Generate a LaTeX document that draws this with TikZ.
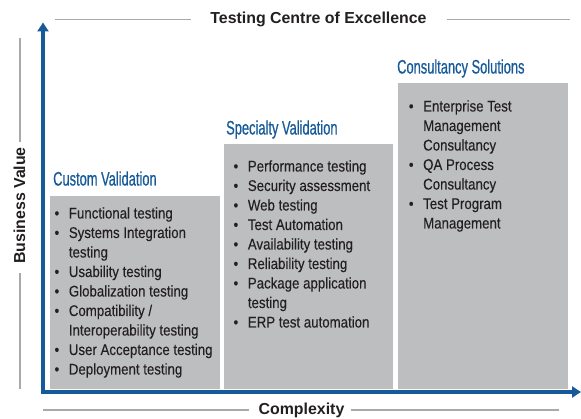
\documentclass[tikz,border=0pt]{standalone}
\usepackage{fontspec}
\setmainfont{Liberation Sans}
\newfontfamily\headfont[FakeStretch=0.66, FakeBold=0.6]{Liberation Sans}
\newfontfamily\listfont[FakeStretch=0.855, FakeBold=0.2]{Liberation Sans}
\usetikzlibrary{arrows.meta}
\definecolor{axisblue}{HTML}{175A99}
\definecolor{boxgray}{HTML}{BCBEC0}
\definecolor{guidegray}{HTML}{A7A9AC}
\definecolor{textdark}{HTML}{231F20}

\begin{document}
\begin{tikzpicture}[x=1pt, y=-1pt]

    % let's define some key values
    \useasboundingbox (0,0) rectangle (581,419);
    \coordinate (origin) at (43,392);
    \coordinate (ytip) at (43,22.5);
    \coordinate (xtip) at (581,392);
    \coordinate (topleft) at (55,19.5);
    \coordinate (topright) at (570,19.5);
    \coordinate (botleft) at (43,410);
    \coordinate (botright) at (559,410);
    \coordinate (lefttop) at (20,38);
    \coordinate (leftbot) at (20,389);

    % Styles
    \tikzstyle{guide}=[guidegray, line width=1.3pt]
    \tikzstyle{axis}=[axisblue, line width=3.5pt, {Triangle[width=11pt,length=9pt]}-{Triangle[width=11pt,length=9pt]}]
    \tikzstyle{label}=[textdark, font=\bfseries\fontsize{15.9}{18}\selectfont, inner sep=0pt, anchor=base]
    \tikzstyle{tier}=[fill=boxgray, inner sep=0pt, anchor=north west]
    \tikzstyle{heading}=[axisblue, font=\headfont\fontsize{19.5}{22}\selectfont, inner sep=0pt, anchor=base west]
    \tikzstyle{items}=[textdark, font=\listfont\fontsize{15.5}{19.5}\selectfont, inner sep=0pt, anchor=base west]

    % tiers
    \node[tier, minimum width=170pt, minimum height=193pt] (custom) at (50,196) {};
    \node[tier, minimum width=169pt, minimum height=245pt] (specialty) at (224,144) {};
    \node[tier, minimum width=170pt, minimum height=306pt] (consultancy) at (398,83) {};

    % axes
    \draw[axis] (ytip) -- (origin) -- (xtip);

    % labels and guides
    \node[label] (title) at (318.5,24) {Testing Centre of Excellence};
    \node[label] (complexity) at (301.5,414) {Complexity};
    \node[label, rotate=90] (business) at (25,205.5) {Business Value};
    \draw[guide, shorten >=19pt] (topleft) -- (topleft -| title.west);
    \draw[guide, shorten >=20pt] (topright) -- (topright -| title.east);
    \draw[guide, shorten >=9pt] (botleft) -- (botleft -| complexity.west);
    \draw[guide, shorten >=6pt] (botright) -- (botright -| complexity.east);
    \draw[guide, shorten >=5pt] (lefttop) -- (lefttop |- business.east);
    \draw[guide, shorten >=9pt] (leftbot) -- (leftbot |- business.west);

    % headings
    \node[heading] (customhead) at (53,185.5) {Custom Validation};
    \node[heading] (specialtyhead) at (226,134.5) {Specialty Validation};
    \node[heading] (consultancyhead) at (397,73.5) {Consultancy Solutions};

    % lists
    \node[items] (customlist) at (54.4,218.5) {\begin{tabular}[t]{@{}p{14.3pt}@{}l@{}}
        \textbullet & Functional testing\\
        \textbullet & Systems Integration\\
                    & testing\\
        \textbullet & Usability testing\\
        \textbullet & Globalization testing\\
        \textbullet & Compatibility /\\
                    & Interoperability testing\\
        \textbullet & User Acceptance testing\\
        \textbullet & Deployment testing
    \end{tabular}};
    \node[items] (specialtylist) at (233.4,171.5) {\begin{tabular}[t]{@{}p{14.3pt}@{}l@{}}
        \textbullet & Performance testing\\
        \textbullet & Security assessment\\
        \textbullet & Web testing\\
        \textbullet & Test Automation\\
        \textbullet & Availability testing\\
        \textbullet & Reliability testing\\
        \textbullet & Package application\\
                    & testing\\
        \textbullet & ERP test automation
    \end{tabular}};
    \node[items] (consultancylist) at (408.7,111.5) {\begin{tabular}[t]{@{}p{14.3pt}@{}l@{}}
        \textbullet & Enterprise Test\\
                    & Management\\
                    & Consultancy\\
        \textbullet & QA Process\\
                    & Consultancy\\
        \textbullet & Test Program\\
                    & Management
    \end{tabular}};

\end{tikzpicture}
\end{document}
